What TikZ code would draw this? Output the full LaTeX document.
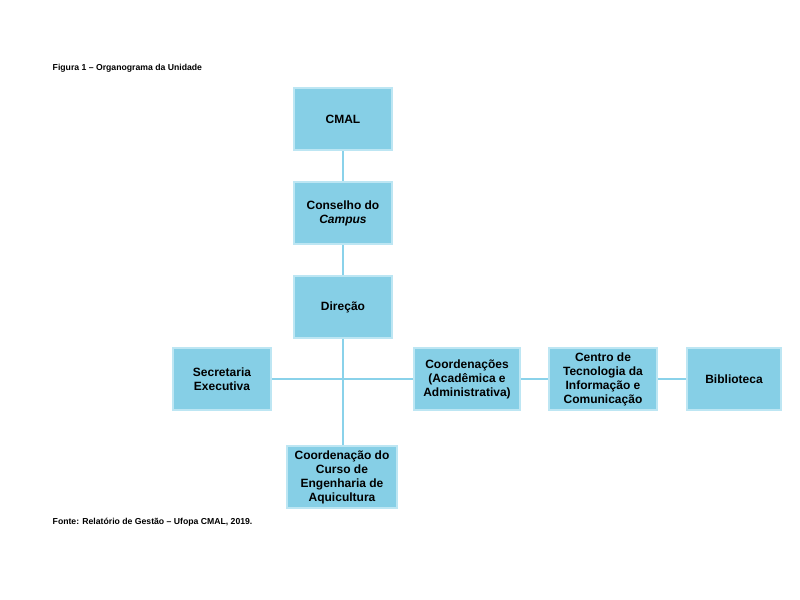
\documentclass[tikz,border=0pt]{standalone}
\usepackage{fontspec}
\setmainfont{Liberation Sans}
\usetikzlibrary{positioning}
\definecolor{boxfill}{HTML}{86CFE6}
\definecolor{boxedge}{HTML}{BDE6F3}
\definecolor{linkcol}{HTML}{8AD2EA}
\tikzset{
  unit/.style={draw=boxedge, fill=boxfill, line width=1.5pt, align=center,
    font=\fontsize{9}{10.5}\selectfont\bfseries, inner sep=1pt},
  link/.style={draw=linkcol, line width=1pt},
  caption/.style={font=\fontsize{6.5}{8}\selectfont\bfseries, anchor=west}
}
\begin{document}
\begin{tikzpicture}[x=0.75pt,y=-0.75pt]
\useasboundingbox (0,0) rectangle (800,600);
\node[caption] (fig) at (48,68) {Figura 1 – Organograma da Unidade};
\node[caption] (src) at (48,522) {Fonte: Relatório de Gestão – Ufopa CMAL, 2019.};
% links first, boxes on top
\coordinate (top) at (343,150);
\coordinate (bot) at (343,446);
\coordinate (left) at (272,379);
\coordinate (right) at (687,379);
\draw[link] (top) -- (bot);
\draw[link] (left) -- (right);
% units
\node[unit, minimum width=73.5pt, minimum height=46.5pt] (cmal) at (343,119) {CMAL};
\node[unit, minimum width=73.5pt, minimum height=46.5pt] (conselho) at (343,213) {Conselho do\\\textit{Campus}};
\node[unit, minimum width=73.5pt, minimum height=46.5pt] (direcao) at (343,307) {Direção};
\node[unit, minimum width=73.5pt, minimum height=46.5pt] (secretaria) at (222,379) {Secretaria\\Executiva};
\node[unit, minimum width=79.5pt, minimum height=46.5pt] (coord) at (467,379) {Coordenações\\(Acadêmica e\\Administrativa)};
\node[unit, minimum width=81pt, minimum height=46.5pt] (centro) at (603,379) {Centro de\\Tecnologia da\\Informação e\\Comunicação};
\node[unit, minimum width=70pt, minimum height=46.5pt] (biblioteca) at (734,379) {Biblioteca};
\node[unit, minimum width=82pt, minimum height=46.5pt] (curso) at (342,477) {Coordenação do\\Curso de\\Engenharia de\\Aquicultura};
\end{tikzpicture}
\end{document}
